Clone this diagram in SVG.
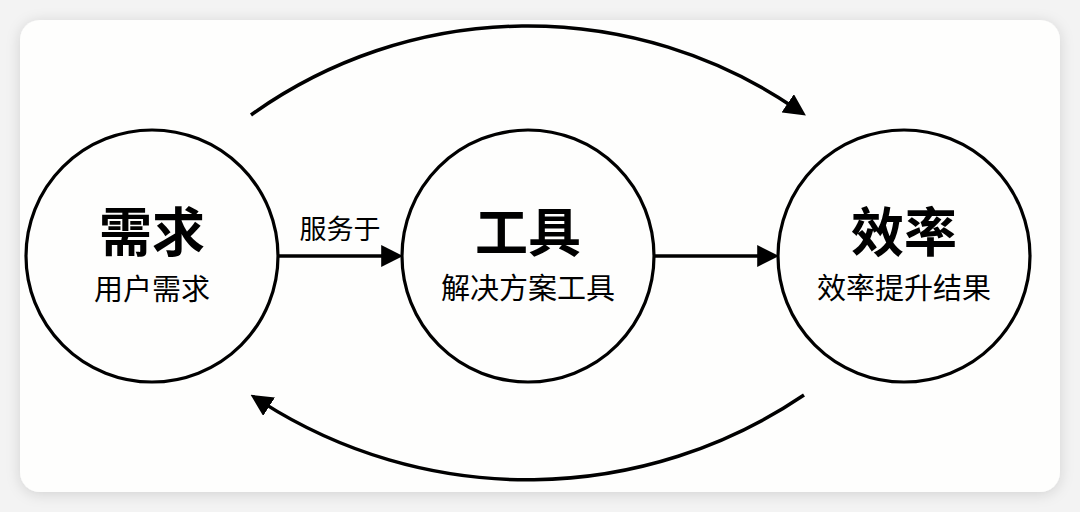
<svg xmlns="http://www.w3.org/2000/svg" width="1080" height="512" viewBox="0 0 1080 512">
  <defs>
    <filter id="shadow" x="-5%" y="-10%" width="110%" height="120%">
      <feDropShadow dx="0" dy="2" stdDeviation="7" flood-color="#000" flood-opacity="0.14"/>
    </filter>
    <marker id="arrow" markerUnits="userSpaceOnUse" markerWidth="22" markerHeight="22" viewBox="0 0 20 20" refX="8" refY="10" orient="auto">
      <path d="M0,0 L20,10 L0,20 Z" fill="#000"/>
    </marker>
    <style>
      .node circle { fill: #fefefd; stroke: #000; stroke-width: 3.2; }
      .title { font-family: "Noto Sans CJK SC", "Noto Sans", sans-serif; font-size: 53px; font-weight: 700; fill: #000; text-anchor: middle; }
      .sub { font-family: "Noto Sans CJK SC", "Noto Sans", sans-serif; font-size: 29px; font-weight: 400; fill: #000; text-anchor: middle; }
      .label { font-family: "Noto Sans CJK SC", "Noto Sans", sans-serif; font-size: 27px; font-weight: 400; fill: #000; text-anchor: middle; }
      .conn { fill: none; stroke: #000; stroke-width: 3.5; marker-end: url(#arrow); }
    </style>
  </defs>
  <rect x="0" y="0" width="1080" height="512" fill="#f3f3f3"/>
  <rect x="20" y="20" width="1040" height="472" rx="20" ry="20" fill="#fefefd" filter="url(#shadow)"/>

  <g id="connectors">
    <path class="conn" d="M251,115 A475,475 0 0 1 795,108.2"/>
    <path class="conn" d="M804,395 A493,493 0 0 1 261.7,401.9"/>
    <line class="conn" x1="279" y1="256" x2="390" y2="256"/>
    <line class="conn" x1="655" y1="256" x2="766" y2="256"/>
    <text class="label" x="340" y="239">服务于</text>
  </g>

  <g id="node-xuqiu" class="node">
    <circle cx="152" cy="256" r="126"/>
    <text class="title" x="152" y="252">需求</text>
    <text class="sub" x="152" y="300">用户需求</text>
  </g>

  <g id="node-gongju" class="node">
    <circle cx="528" cy="256" r="126"/>
    <text class="title" x="528" y="252">工具</text>
    <text class="sub" x="528" y="299">解决方案工具</text>
  </g>

  <g id="node-xiaolv" class="node">
    <circle cx="904" cy="256" r="126"/>
    <text class="title" x="904" y="252">效率</text>
    <text class="sub" x="904" y="299">效率提升结果</text>
  </g>
</svg>
